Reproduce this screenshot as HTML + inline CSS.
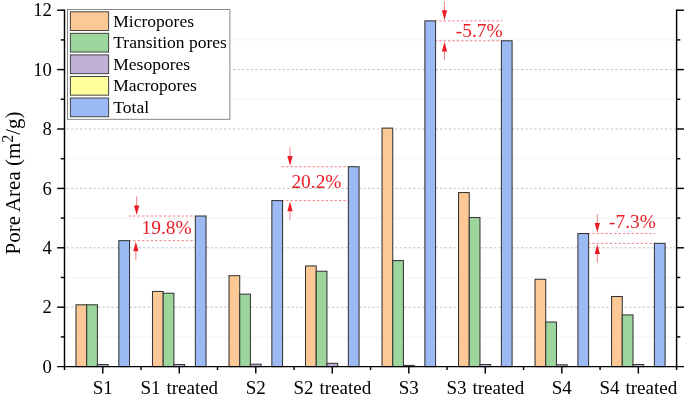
<!DOCTYPE html>
<html lang="en"><head><meta charset="utf-8"><title>Pore Area</title>
<style>html,body{margin:0;padding:0;background:#fff;}svg{display:block;}text{font-family:'Liberation Serif', 'Times New Roman', serif;}</style>
</head><body>
<svg width="685" height="396" viewBox="0 0 685 396">
<rect x="0" y="0" width="685" height="396" fill="#ffffff"/>
<g fill="none">
<line x1="66.50" y1="336.90" x2="676.60" y2="336.90" stroke="#e6e6e6" stroke-width="1" stroke-dasharray="1 1"/>
<line x1="66.50" y1="307.20" x2="676.60" y2="307.20" stroke="#c4c4c4" stroke-width="1" stroke-dasharray="2.4 2.1"/>
<line x1="66.50" y1="277.50" x2="676.60" y2="277.50" stroke="#e6e6e6" stroke-width="1" stroke-dasharray="1 1"/>
<line x1="66.50" y1="247.80" x2="676.60" y2="247.80" stroke="#c4c4c4" stroke-width="1" stroke-dasharray="2.4 2.1"/>
<line x1="66.50" y1="218.10" x2="676.60" y2="218.10" stroke="#e6e6e6" stroke-width="1" stroke-dasharray="1 1"/>
<line x1="66.50" y1="188.40" x2="676.60" y2="188.40" stroke="#c4c4c4" stroke-width="1" stroke-dasharray="2.4 2.1"/>
<line x1="66.50" y1="158.70" x2="676.60" y2="158.70" stroke="#e6e6e6" stroke-width="1" stroke-dasharray="1 1"/>
<line x1="66.50" y1="129.00" x2="676.60" y2="129.00" stroke="#c4c4c4" stroke-width="1" stroke-dasharray="2.4 2.1"/>
<line x1="66.50" y1="99.30" x2="676.60" y2="99.30" stroke="#e6e6e6" stroke-width="1" stroke-dasharray="1 1"/>
<line x1="66.50" y1="69.60" x2="676.60" y2="69.60" stroke="#c4c4c4" stroke-width="1" stroke-dasharray="2.4 2.1"/>
<line x1="66.50" y1="39.90" x2="676.60" y2="39.90" stroke="#e6e6e6" stroke-width="1" stroke-dasharray="1 1"/>
</g>
<line x1="128.74" y1="240.67" x2="196.14" y2="240.67" stroke="#EB1C24" stroke-width="0.9" stroke-dasharray="2.4 2" stroke-opacity="0.62"/>
<line x1="128.74" y1="216.02" x2="196.14" y2="216.02" stroke="#EB1C24" stroke-width="0.9" stroke-dasharray="2.4 2" stroke-opacity="0.62"/>
<line x1="281.76" y1="200.58" x2="349.16" y2="200.58" stroke="#EB1C24" stroke-width="0.9" stroke-dasharray="2.4 2" stroke-opacity="0.62"/>
<line x1="281.76" y1="166.72" x2="349.16" y2="166.72" stroke="#EB1C24" stroke-width="0.9" stroke-dasharray="2.4 2" stroke-opacity="0.62"/>
<line x1="434.79" y1="20.89" x2="502.19" y2="20.89" stroke="#EB1C24" stroke-width="0.9" stroke-dasharray="2.4 2" stroke-opacity="0.62"/>
<line x1="434.79" y1="40.79" x2="502.19" y2="40.79" stroke="#EB1C24" stroke-width="0.9" stroke-dasharray="2.4 2" stroke-opacity="0.62"/>
<line x1="587.81" y1="233.54" x2="655.21" y2="233.54" stroke="#EB1C24" stroke-width="0.9" stroke-dasharray="2.4 2" stroke-opacity="0.62"/>
<line x1="587.81" y1="243.35" x2="655.21" y2="243.35" stroke="#EB1C24" stroke-width="0.9" stroke-dasharray="2.4 2" stroke-opacity="0.62"/>
<g stroke="#353535" stroke-width="1.05">
<rect x="75.98" y="304.82" width="10.71" height="61.78" fill="#FCC896"/>
<rect x="86.69" y="304.82" width="10.71" height="61.78" fill="#9DD69C"/>
<rect x="97.40" y="364.52" width="10.71" height="2.08" fill="#C2B0D8"/>
<rect x="118.82" y="240.67" width="10.71" height="125.93" fill="#9BB9F2"/>
<rect x="152.49" y="291.46" width="10.71" height="75.14" fill="#FCC896"/>
<rect x="163.20" y="293.24" width="10.71" height="73.36" fill="#9DD69C"/>
<rect x="173.91" y="364.52" width="10.71" height="2.08" fill="#C2B0D8"/>
<rect x="195.34" y="216.02" width="10.71" height="150.58" fill="#9BB9F2"/>
<rect x="229.00" y="275.72" width="10.71" height="90.88" fill="#FCC896"/>
<rect x="239.71" y="294.13" width="10.71" height="72.47" fill="#9DD69C"/>
<rect x="250.43" y="364.22" width="10.71" height="2.38" fill="#C2B0D8"/>
<rect x="271.85" y="200.58" width="10.71" height="166.02" fill="#9BB9F2"/>
<rect x="305.51" y="265.92" width="10.71" height="100.68" fill="#FCC896"/>
<rect x="316.23" y="271.26" width="10.71" height="95.34" fill="#9DD69C"/>
<rect x="326.94" y="363.33" width="10.71" height="3.27" fill="#C2B0D8"/>
<rect x="348.36" y="166.72" width="10.71" height="199.88" fill="#9BB9F2"/>
<rect x="382.03" y="128.11" width="10.71" height="238.49" fill="#FCC896"/>
<rect x="392.74" y="260.57" width="10.71" height="106.03" fill="#9DD69C"/>
<rect x="403.45" y="365.41" width="10.71" height="1.19" fill="#C2B0D8"/>
<rect x="424.87" y="20.89" width="10.71" height="345.71" fill="#9BB9F2"/>
<rect x="458.54" y="192.56" width="10.71" height="174.04" fill="#FCC896"/>
<rect x="469.25" y="217.51" width="10.71" height="149.09" fill="#9DD69C"/>
<rect x="479.96" y="364.52" width="10.71" height="2.08" fill="#C2B0D8"/>
<rect x="501.39" y="40.79" width="10.71" height="325.81" fill="#9BB9F2"/>
<rect x="535.05" y="279.28" width="10.71" height="87.32" fill="#FCC896"/>
<rect x="545.76" y="322.05" width="10.71" height="44.55" fill="#9DD69C"/>
<rect x="556.48" y="364.82" width="10.71" height="1.78" fill="#C2B0D8"/>
<rect x="577.90" y="233.54" width="10.71" height="133.06" fill="#9BB9F2"/>
<rect x="611.56" y="296.51" width="10.71" height="70.09" fill="#FCC896"/>
<rect x="622.28" y="314.92" width="10.71" height="51.68" fill="#9DD69C"/>
<rect x="632.99" y="364.52" width="10.71" height="2.08" fill="#C2B0D8"/>
<rect x="654.41" y="243.35" width="10.71" height="123.25" fill="#9BB9F2"/>
</g>
<g stroke="#000" stroke-width="1.45" fill="none">
<line x1="64.50" y1="9.48" x2="64.50" y2="367.32"/>
<line x1="676.60" y1="9.48" x2="676.60" y2="367.32"/>
<line x1="57.20" y1="366.60" x2="683.90" y2="366.60"/>
<line x1="60.80" y1="336.90" x2="64.50" y2="336.90"/>
<line x1="676.60" y1="336.90" x2="680.30" y2="336.90"/>
<line x1="57.20" y1="307.20" x2="64.50" y2="307.20"/>
<line x1="676.60" y1="307.20" x2="683.90" y2="307.20"/>
<line x1="60.80" y1="277.50" x2="64.50" y2="277.50"/>
<line x1="676.60" y1="277.50" x2="680.30" y2="277.50"/>
<line x1="57.20" y1="247.80" x2="64.50" y2="247.80"/>
<line x1="676.60" y1="247.80" x2="683.90" y2="247.80"/>
<line x1="60.80" y1="218.10" x2="64.50" y2="218.10"/>
<line x1="676.60" y1="218.10" x2="680.30" y2="218.10"/>
<line x1="57.20" y1="188.40" x2="64.50" y2="188.40"/>
<line x1="676.60" y1="188.40" x2="683.90" y2="188.40"/>
<line x1="60.80" y1="158.70" x2="64.50" y2="158.70"/>
<line x1="676.60" y1="158.70" x2="680.30" y2="158.70"/>
<line x1="57.20" y1="129.00" x2="64.50" y2="129.00"/>
<line x1="676.60" y1="129.00" x2="683.90" y2="129.00"/>
<line x1="60.80" y1="99.30" x2="64.50" y2="99.30"/>
<line x1="676.60" y1="99.30" x2="680.30" y2="99.30"/>
<line x1="57.20" y1="69.60" x2="64.50" y2="69.60"/>
<line x1="676.60" y1="69.60" x2="683.90" y2="69.60"/>
<line x1="60.80" y1="39.90" x2="64.50" y2="39.90"/>
<line x1="676.60" y1="39.90" x2="680.30" y2="39.90"/>
<line x1="57.20" y1="10.20" x2="64.50" y2="10.20"/>
<line x1="676.60" y1="10.20" x2="683.90" y2="10.20"/>
<line x1="102.76" y1="366.60" x2="102.76" y2="373.60"/>
<line x1="179.27" y1="366.60" x2="179.27" y2="373.60"/>
<line x1="255.78" y1="366.60" x2="255.78" y2="373.60"/>
<line x1="332.29" y1="366.60" x2="332.29" y2="373.60"/>
<line x1="408.81" y1="366.60" x2="408.81" y2="373.60"/>
<line x1="485.32" y1="366.60" x2="485.32" y2="373.60"/>
<line x1="561.83" y1="366.60" x2="561.83" y2="373.60"/>
<line x1="638.34" y1="366.60" x2="638.34" y2="373.60"/>
<line x1="64.50" y1="366.60" x2="64.50" y2="370.00"/>
<line x1="141.01" y1="366.60" x2="141.01" y2="370.00"/>
<line x1="217.53" y1="366.60" x2="217.53" y2="370.00"/>
<line x1="294.04" y1="366.60" x2="294.04" y2="370.00"/>
<line x1="370.55" y1="366.60" x2="370.55" y2="370.00"/>
<line x1="447.06" y1="366.60" x2="447.06" y2="370.00"/>
<line x1="523.58" y1="366.60" x2="523.58" y2="370.00"/>
<line x1="600.09" y1="366.60" x2="600.09" y2="370.00"/>
<line x1="676.60" y1="366.60" x2="676.60" y2="370.00"/>
</g>
<g fill="#000">
<text x="51.9" y="372.70" font-size="18.67" text-anchor="end">0</text>
<text x="51.9" y="313.30" font-size="18.67" text-anchor="end">2</text>
<text x="51.9" y="253.90" font-size="18.67" text-anchor="end">4</text>
<text x="51.9" y="194.50" font-size="18.67" text-anchor="end">6</text>
<text x="51.9" y="135.10" font-size="18.67" text-anchor="end">8</text>
<text x="51.9" y="75.70" font-size="18.67" text-anchor="end">10</text>
<text x="51.9" y="16.30" font-size="18.67" text-anchor="end">12</text>
<text x="102.76" y="393.7" font-size="19" word-spacing="1.2" text-anchor="middle">S1</text>
<text x="179.27" y="393.7" font-size="19" word-spacing="1.2" text-anchor="middle">S1 treated</text>
<text x="255.78" y="393.7" font-size="19" word-spacing="1.2" text-anchor="middle">S2</text>
<text x="332.29" y="393.7" font-size="19" word-spacing="1.2" text-anchor="middle">S2 treated</text>
<text x="408.81" y="393.7" font-size="19" word-spacing="1.2" text-anchor="middle">S3</text>
<text x="485.32" y="393.7" font-size="19" word-spacing="1.2" text-anchor="middle">S3 treated</text>
<text x="561.83" y="393.7" font-size="19" word-spacing="1.2" text-anchor="middle">S4</text>
<text x="638.34" y="393.7" font-size="19" word-spacing="1.2" text-anchor="middle">S4 treated</text>
</g>
<text transform="translate(20.3 183.0) rotate(-90)" font-size="20.95" text-anchor="middle" fill="#000">Pore Area (m<tspan font-size="16" dy="-7.5">2</tspan><tspan dy="7.5">/g)</tspan></text>
<rect x="67.5" y="9.5" width="162.4" height="109.8" fill="#fff" stroke="#7a7a7a" stroke-width="0.9"/>
<rect x="70.4" y="11.80" width="38.2" height="18.7" fill="#FCC896" stroke="#444" stroke-width="1"/>
<text x="113.3" y="26.80" font-size="17.5" fill="#000">Micropores</text>
<rect x="70.4" y="33.35" width="38.2" height="18.7" fill="#9DD69C" stroke="#444" stroke-width="1"/>
<text x="113.3" y="48.35" font-size="17.5" fill="#000">Transition pores</text>
<rect x="70.4" y="54.90" width="38.2" height="18.7" fill="#C2B0D8" stroke="#444" stroke-width="1"/>
<text x="113.3" y="69.90" font-size="17.5" fill="#000">Mesopores</text>
<rect x="70.4" y="76.45" width="38.2" height="18.7" fill="#FFFF9E" stroke="#444" stroke-width="1"/>
<text x="113.3" y="91.45" font-size="17.5" fill="#000">Macropores</text>
<rect x="70.4" y="98.00" width="38.2" height="18.7" fill="#9BB9F2" stroke="#444" stroke-width="1"/>
<text x="113.3" y="113.00" font-size="17.5" fill="#000">Total</text>
<line x1="136.65" y1="196.52" x2="136.65" y2="208.02" stroke="#EB1C24" stroke-width="0.7" stroke-opacity="0.8"/><path d="M136.65 215.02 L134.00 205.42 L139.30 205.42 Z" fill="#EB1C24"/>
<line x1="135.85" y1="260.17" x2="135.85" y2="248.67" stroke="#EB1C24" stroke-width="0.7" stroke-opacity="0.8"/><path d="M135.85 241.67 L133.20 251.27 L138.50 251.27 Z" fill="#EB1C24"/>
<text x="141.60" y="234.10" font-size="19.4" fill="#EB1C24">19.8%</text>
<line x1="290.00" y1="147.22" x2="290.00" y2="158.72" stroke="#EB1C24" stroke-width="0.7" stroke-opacity="0.8"/><path d="M290.00 165.72 L287.35 156.12 L292.65 156.12 Z" fill="#EB1C24"/>
<line x1="290.00" y1="220.08" x2="290.00" y2="208.58" stroke="#EB1C24" stroke-width="0.7" stroke-opacity="0.8"/><path d="M290.00 201.58 L287.35 211.18 L292.65 211.18 Z" fill="#EB1C24"/>
<text x="291.40" y="188.30" font-size="19.4" fill="#EB1C24">20.2%</text>
<line x1="444.50" y1="1.39" x2="444.50" y2="12.89" stroke="#EB1C24" stroke-width="0.7" stroke-opacity="0.8"/><path d="M444.50 19.89 L441.85 10.29 L447.15 10.29 Z" fill="#EB1C24"/>
<line x1="444.50" y1="60.29" x2="444.50" y2="48.79" stroke="#EB1C24" stroke-width="0.7" stroke-opacity="0.8"/><path d="M444.50 41.79 L441.85 51.39 L447.15 51.39 Z" fill="#EB1C24"/>
<text x="455.80" y="37.00" font-size="19.4" fill="#EB1C24">-5.7%</text>
<line x1="597.30" y1="214.04" x2="597.30" y2="225.54" stroke="#EB1C24" stroke-width="0.7" stroke-opacity="0.8"/><path d="M597.30 232.54 L594.65 222.94 L599.95 222.94 Z" fill="#EB1C24"/>
<line x1="597.30" y1="262.85" x2="597.30" y2="251.35" stroke="#EB1C24" stroke-width="0.7" stroke-opacity="0.8"/><path d="M597.30 244.35 L594.65 253.95 L599.95 253.95 Z" fill="#EB1C24"/>
<text x="609.00" y="227.90" font-size="19.4" fill="#EB1C24">-7.3%</text>
</svg></body></html>
